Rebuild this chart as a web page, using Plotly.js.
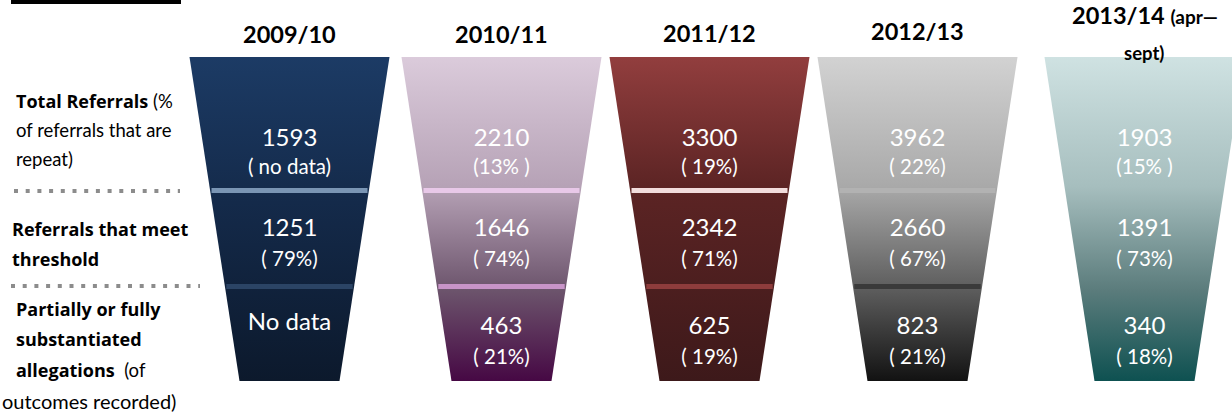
<!DOCTYPE html>
<html>
<head>
<meta charset="utf-8">
<script src="https://cdn.plot.ly/plotly-3.0.1.min.js"></script>
<style>html,body{margin:0;padding:0;background:#fff}#chart{width:1232px;height:414px}</style>
</head>
<body>
<div id="chart"></div>
<script>
// ---------- DATA ----------
const years = ['2009/10', '2010/11', '2011/12', '2012/13', '2013/14'];
const yearNotes = ['', '', '', '', '(apr\u2014'];
const totalReferrals = [1593, 2210, 3300, 3962, 1903];
const repeatLabels = ['( no data)', '(13% )', '( 19%)', '( 22%)', '(15% )'];
const meetThreshold = [1251, 1646, 2342, 2660, 1391];
const meetLabels = ['( 79%)', '( 74%)', '( 71%)', '( 67%)', '( 73%)'];
const substantiated = [null, 463, 625, 823, 340];
const substLabels = ['', '( 21%)', '( 19%)', '( 21%)', '( 18%)'];

// ---------- STYLE / LAYOUT ----------
const FONT = 'Lato, "Open Sans", sans-serif';
const BFONT = '"Open Sans", Lato, sans-serif';
const centers = [289.5, 501.5, 709.5, 917.5, 1144.5];
const topY = 57, botY = 381, topHalf = 100, botHalf = 50;
const gradients = [
  [[0, '#1c3b65'], [0.45, '#142a4a'], [1, '#0c192c']],
  [[0, '#dbcbdb'], [0.4, '#b6a2b6'], [0.72, '#6c546c'], [1, '#460844']],
  [[0, '#923e3e'], [0.4, '#5c2424'], [1, '#3d191a']],
  [[0, '#d2d2d2'], [0.4, '#a9a9a9'], [0.72, '#5c5c5c'], [1, '#121212']],
  [[0, '#cfe2e2'], [0.4, '#a6bebe'], [0.72, '#5b7c7c'], [1, '#0e5151']]
];
const sepColors = [
  ['#7a95b4', '#2b4465'], ['#e8c8e8', '#c894c8'], ['#f2dcdc', '#8e3c3c'],
  ['#b2b2b2', '#3a3a3a'], [null, null]
];
const sepY = [[188, 193], [284, 289]];
const rowNumY = [140, 230, 328], rowPctY = [169, 261, 359], noDataY = 324;

function edge(i, y) {
  const t = (y - topY) / (botY - topY);
  const h = topHalf + (botHalf - topHalf) * t;
  return [centers[i] - h, centers[i] + h];
}

const traces = [];
const shapes = [];
years.forEach((yr, i) => {
  const c = centers[i];
  traces.push({
    type: 'scatter', mode: 'lines', hoverinfo: 'skip', showlegend: false,
    x: [c - topHalf, c + topHalf, c + botHalf, c - botHalf, c - topHalf],
    y: [topY, topY, botY, botY, topY],
    line: {width: 0}, fill: 'toself',
    fillgradient: {type: 'vertical', start: topY, stop: botY, colorscale: gradients[i]}
  });
  sepY.forEach((s, k) => {
    const col = sepColors[i][k];
    if (!col) return;
    const e0 = edge(i, s[0]), e1 = edge(i, s[1]);
    shapes.push({type: 'rect', xref: 'x', yref: 'y', x0: Math.max(e0[0], e1[0]) + 1, x1: Math.min(e0[1], e1[1]) - 1,
      y0: s[0], y1: s[1], fillcolor: col, line: {width: 0}, layer: 'above'});
  });
});

// number text
const numStyle = {family: FONT, size: 24, color: '#ffffff'};
const pctStyle = {family: FONT, size: 20.5, color: '#ffffff'};
function textTrace(xs, ys, txt, font) {
  return {type: 'scatter', mode: 'text', x: xs, y: ys, text: txt, textfont: font,
    textposition: 'middle center', hoverinfo: 'skip', showlegend: false, cliponaxis: false};
}
traces.push(textTrace(centers, centers.map(() => rowNumY[0]), totalReferrals.map(String), numStyle));
traces.push(textTrace(centers, centers.map(() => rowPctY[0]), repeatLabels, pctStyle));
traces.push(textTrace(centers, centers.map(() => rowNumY[1]), meetThreshold.map(String), numStyle));
traces.push(textTrace(centers, centers.map(() => rowPctY[1]), meetLabels, pctStyle));
traces.push(textTrace(centers, substantiated.map(v => v === null ? noDataY : rowNumY[2]),
  substantiated.map(v => v === null ? 'No data' : String(v)), numStyle));
traces.push(textTrace(centers, centers.map(() => rowPctY[2]), substLabels, pctStyle));

// headers
const annotations = [];
const headerY = [34, 34, 33, 31, 15];
years.forEach((yr, i) => {
  const note = yearNotes[i] ? ' <span style="font-size:19px">' + yearNotes[i] + '</span>' : '';
  annotations.push({x: i === 4 ? 1145 : centers[i], y: headerY[i], xref: 'x', yref: 'y', showarrow: false,
    text: '<b>' + yr + note + '</b>', font: {family: FONT, size: 23.5, color: '#000'}, xanchor: 'center', yanchor: 'middle'});
});
annotations.push({x: 1144, y: 53, xref: 'x', yref: 'y', showarrow: false, text: '<b>sept)</b>',
  font: {family: FONT, size: 18.5, color: '#000'}, xanchor: 'center', yanchor: 'middle'});

// left labels: [bold part, regular part, x, y, size]
const leftLines = [
  ['Total Referrals', ' (%', 14, 101, 18],
  ['', 'of referrals that are', 14, 130, 18.5],
  ['', 'repeat)', 14, 159, 18.5],
  ['Referrals that meet', '', 10, 229, 18],
  ['threshold', '', 10, 259, 18],
  ['Partially or fully', '', 14, 309, 18],
  ['substantiated', '', 14, 339, 18],
  ['allegations', '  (of', 14, 370, 18],
  ['', 'outcomes recorded)', 0, 401, 20]
];
leftLines.forEach(l => {
  const txt = (l[0] ? '<b>' + l[0] + '</b>' : '') +
    (l[1] ? '<span style="font-family:Lato;font-size:' + (l[0] ? 18.5 : l[4]) + 'px">' + l[1] + '</span>' : '');
  annotations.push({x: l[2], y: l[3], xref: 'x', yref: 'y', showarrow: false, text: txt,
    font: {family: l[0] ? BFONT : FONT, size: l[4], color: '#000'}, xanchor: 'left', yanchor: 'middle'});
});

// decorations
shapes.push({type: 'rect', xref: 'x', yref: 'y', x0: 11, x1: 181, y0: 0, y1: 4, fillcolor: '#000', line: {width: 0}});
shapes.push({type: 'line', xref: 'x', yref: 'y', x0: 14, x1: 180, y0: 191, y1: 191,
  line: {color: '#8c8c8c', width: 4, dash: '4px,7.7px'}});
shapes.push({type: 'line', xref: 'x', yref: 'y', x0: 11, x1: 200, y0: 286, y1: 286,
  line: {color: '#8c8c8c', width: 4, dash: '4px,7.7px'}});

const layout = {
  width: 1232, height: 414,
  margin: {l: 0, r: 0, t: 0, b: 0},
  paper_bgcolor: '#fff', plot_bgcolor: '#fff',
  xaxis: {range: [0, 1232], visible: false, fixedrange: true},
  yaxis: {range: [414, 0], visible: false, fixedrange: true},
  shapes: shapes, annotations: annotations, showlegend: false
};
Plotly.newPlot('chart', traces, layout, {displayModeBar: false, staticPlot: true});
</script>
</body>
</html>
